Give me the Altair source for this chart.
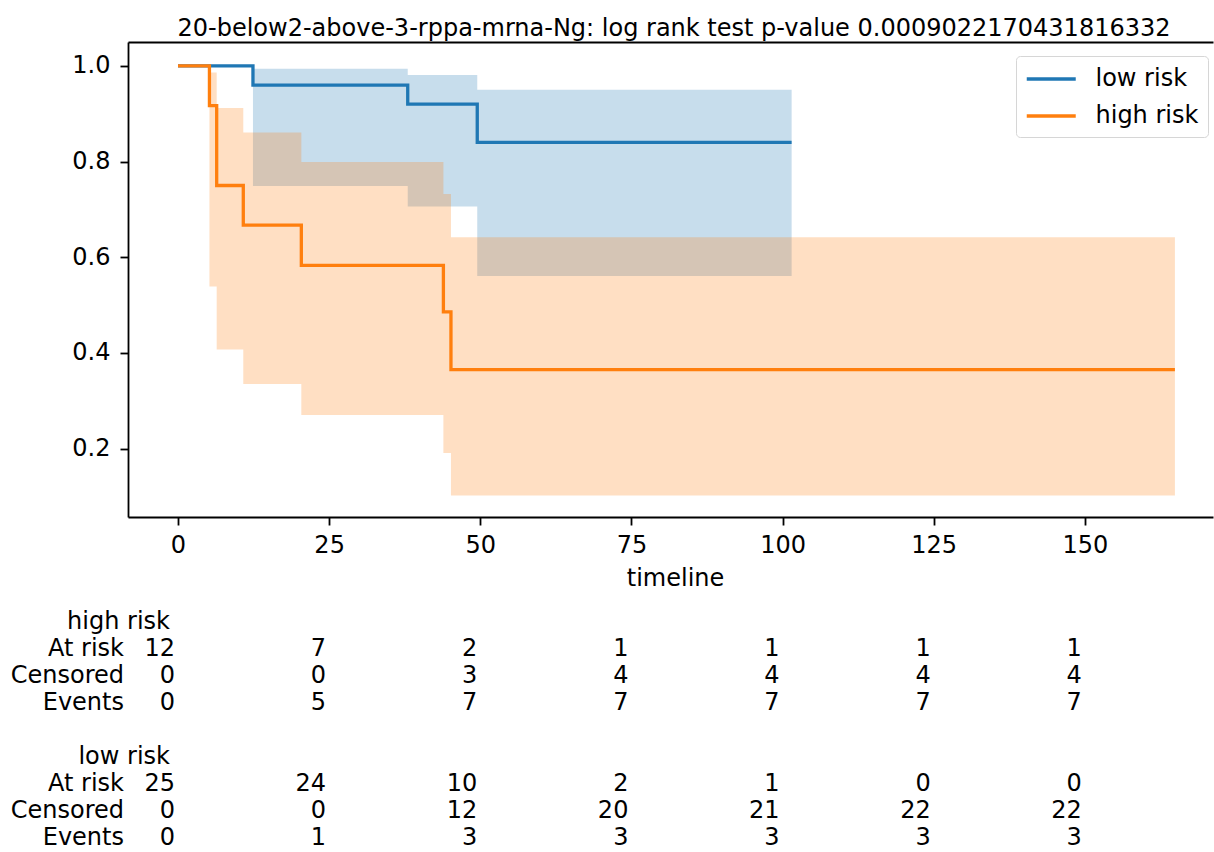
import altair as alt
import pandas as pd

# ---- survival curves ----
low_t = [0, 12.4, 38.0, 49.5, 101.5]
low_s = [1.0, 0.96, 0.92, 0.84, 0.84]
low_hi = [1.0, 0.994, 0.981, 0.95, 0.95]
low_lo = [1.0, 0.749, 0.706, 0.561, 0.561]

high_t = [0, 5.2, 6.4, 10.8, 20.4, 43.9, 45.15, 164.9]
high_s = [1.0, 0.917, 0.75, 0.667, 0.583, 0.486, 0.365, 0.365]
high_hi = [1.0, 0.986, 0.912, 0.861, 0.799, 0.732, 0.642, 0.642]
high_lo = [1.0, 0.539, 0.407, 0.335, 0.270, 0.191, 0.102, 0.102]

groups = ["low risk", "high risk"]
colors = ["#1f77b4", "#ff7f0e"]

# ---- at-risk table ----
tick_times = [0, 25, 50, 75, 100, 125, 150]
high_at_risk = [12, 7, 2, 1, 1, 1, 1]
high_censored = [0, 0, 3, 4, 4, 4, 4]
high_events = [0, 5, 7, 7, 7, 7, 7]
low_at_risk = [25, 24, 10, 2, 1, 0, 0]
low_censored = [0, 0, 12, 20, 21, 22, 22]
low_events = [0, 1, 3, 3, 3, 3, 3]
row_names = ["At risk", "Censored", "Events"]

title_text = "20-below2-above-3-rppa-mrna-Ng: log rank test p-value 0.0009022170431816332"

FONT = "DejaVu Sans"
FS = 24

df_low = pd.DataFrame({"time": low_t, "surv": low_s, "upper": low_hi, "lower": low_lo, "group": "low risk"})
df_high = pd.DataFrame({"time": high_t, "surv": high_s, "upper": high_hi, "lower": high_lo, "group": "high risk"})

row_keys = ["high|hdr", "high|At risk", "high|Censored", "high|Events", "gap",
            "low|hdr", "low|At risk", "low|Censored", "low|Events"]

hdr_rows = []
lab_rows = []
val_rows = []
for g, name, series in [("high", "high risk", [high_at_risk, high_censored, high_events]),
                        ("low", "low risk", [low_at_risk, low_censored, low_events])]:
    hdr_rows.append({"tick": 0, "row": f"{g}|hdr", "label": name})
    for rn, vals in zip(row_names, series):
        lab_rows.append({"tick": 0, "row": f"{g}|{rn}", "label": rn})
        for t, v in zip(tick_times, vals):
            val_rows.append({"tick": t, "row": f"{g}|{rn}", "label": str(v)})
df_hdr = pd.DataFrame(hdr_rows)
df_lab = pd.DataFrame(lab_rows)
df_val = pd.DataFrame(val_rows)

xscale = alt.Scale(domain=[-8.27, 171.2], nice=False, zero=False)
yscale = alt.Scale(domain=[0.057, 1.05], nice=False, zero=False)
tscale = alt.Scale(type="point", domain=row_keys, range=[580, 796], padding=0)
cscale = alt.Scale(domain=groups, range=colors)

x_bottom = alt.Axis(values=tick_times, format="d", title="timeline", grid=False,
                    labelPadding=8, titlePadding=9, titleX=547, labelFlush=False)
x_top = alt.Axis(orient="top", labels=False, ticks=False, title=None, grid=False, domain=True)
y_axis = alt.Axis(values=[0.2, 0.4, 0.6, 0.8, 1.0], format=".1f", title=None, grid=False,
                  labelPadding=10)

legend = alt.Legend(title=None, orient="none", legendX=888, legendY=14,
                    symbolType="M-1,0H3", symbolSize=600, symbolStrokeWidth=3.3,
                    labelFontSize=FS, labelFont=FONT, labelColor="black",
                    padding=9, rowPadding=11, labelOffset=42.5,
                    strokeColor="#d6d6d6", fillColor="white", cornerRadius=4, labelLimit=0)


def band(df, color, top_axis=False):
    return alt.Chart(df).mark_area(interpolate="step-after", fillOpacity=0.25).encode(
        x=alt.X("time:Q", scale=xscale, axis=x_top if top_axis else None),
        y=alt.Y("upper:Q", scale=yscale, axis=None),
        y2="lower:Q",
        fill=alt.value(color),
    )


def curve(df, axes=False):
    return alt.Chart(df).mark_line(interpolate="step-after", strokeWidth=3.3).encode(
        x=alt.X("time:Q", scale=xscale, axis=x_bottom if axes else None),
        y=alt.Y("surv:Q", scale=yscale, axis=y_axis if axes else None),
        color=alt.Color("group:N", scale=cscale, legend=legend),
    )


def table_text(df, dx):
    return alt.Chart(df).mark_text(align="right", baseline="middle", dx=dx,
                                   font=FONT, fontSize=FS, color="black").encode(
        x=alt.X("tick:Q", scale=xscale, axis=None),
        y=alt.Y("row:N", scale=tscale, axis=None),
        text="label:N",
    )


chart = alt.layer(
    band(df_low, colors[0], top_axis=True),
    curve(df_low, axes=True),
    band(df_high, colors[1]),
    curve(df_high),
    table_text(df_hdr, -8),
    table_text(df_lab, -54),
    table_text(df_val, -3),
).resolve_scale(
    y="independent"
).resolve_axis(
    x="independent", y="independent"
).properties(
    width=1085,
    height=475,
    title=alt.Title(title_text, font=FONT, fontSize=FS, fontWeight="normal", color="black",
                    anchor="middle", dx=3.5, dy=25, offset=7, baseline="alphabetic"),
    autosize=alt.AutoSizeParams(type="none"),
    padding={"left": 128, "top": 42, "right": 1, "bottom": 335},
).configure_view(
    stroke=None
).configure_axis(
    labelFont=FONT, labelFontSize=FS, labelColor="black",
    titleFont=FONT, titleFontSize=FS, titleColor="black", titleFontWeight="normal",
    domainColor="black", domainWidth=1.8, tickColor="black", tickWidth=1.8, tickSize=8,
)

chart.save("out.html", embed_options={"renderer": "svg", "actions": False})
